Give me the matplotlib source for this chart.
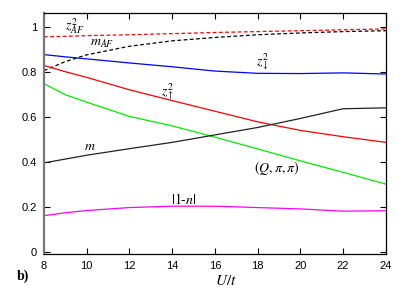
import matplotlib
matplotlib.use('Agg')
import matplotlib.pyplot as plt
from matplotlib.ticker import FormatStrFormatter, MultipleLocator

plt.rcParams['mathtext.fontset'] = 'stix'
plt.rcParams['font.family'] = 'Liberation Sans'

U = [8, 9, 10, 12, 14, 16, 18, 20, 22, 24]
z2_af = [0.955, 0.957, 0.960, 0.964, 0.969, 0.974, 0.978, 0.982, 0.986, 0.990]
m_af = [0.805, 0.845, 0.875, 0.913, 0.937, 0.952, 0.964, 0.972, 0.978, 0.982]
z2_down = [0.876, 0.866, 0.857, 0.839, 0.822, 0.803, 0.793, 0.792, 0.795, 0.790]
z2_up = [0.828, 0.800, 0.775, 0.720, 0.672, 0.625, 0.578, 0.540, 0.512, 0.487]
q_pipi = [0.747, 0.698, 0.665, 0.602, 0.560, 0.510, 0.458, 0.405, 0.354, 0.302]
m = [0.396, 0.413, 0.430, 0.459, 0.487, 0.520, 0.553, 0.593, 0.636, 0.640]
one_minus_n = [0.162, 0.175, 0.185, 0.198, 0.204, 0.204, 0.198, 0.192, 0.182, 0.184]

fig = plt.figure(figsize=(4.07, 2.91), dpi=100)
ax = fig.add_axes([0.108, 0.127, 0.840, 0.828])

lw = 0.9
ax.plot(U, z2_af, color='#ff0000', lw=lw, ls=(0, (3, 2)))
ax.plot(U, m_af, color='black', lw=lw, ls=(0, (3, 2)))
ax.plot(U, z2_down, color='#0000ff', lw=lw)
ax.plot(U, z2_up, color='#ff0000', lw=lw)
ax.plot(U, q_pipi, color='#00ee00', lw=lw)
ax.plot(U, m, color='#222222', lw=lw)
ax.plot(U, one_minus_n, color='#ff00ff', lw=lw)

ax.set_xlim(8, 24)
ax.set_ylim(-0.008, 1.06)
ax.xaxis.set_major_locator(MultipleLocator(2))
ax.yaxis.set_major_locator(MultipleLocator(0.2))
ax.yaxis.set_major_formatter(FormatStrFormatter('%g'))
ax.tick_params(direction='in', length=4, width=0.8, top=True, right=True,
               labelsize=8, pad=5)
for s in ax.spines.values():
    s.set_linewidth(0.9)
ax.spines['left'].set_color('#777777')
ax.spines['left'].set_linewidth(1.6)

lab = dict(fontsize=10, family='Liberation Serif', ha='center', va='center')
ax.text(9.45, 1.0, r'$z^2_{AF}$', **lab)
ax.text(10.7, 0.925, r'$m_{AF}$', **lab)
ax.text(13.8, 0.712, r'$z^2_{\uparrow}$', **lab)
ax.text(18.25, 0.845, r'$z^2_{\downarrow}$', **lab)
ax.text(10.15, 0.47, r'$m$', **lab)
ax.text(18.9, 0.375, r'$(Q,\pi,\pi)$', **lab)
ax.text(14.55, 0.235, r'$\left|1\text{-}n\right|$', **lab)

fig.text(226 / 407, 1 - 281 / 291, r'$U/t$', fontsize=11, ha='center', va='center')
fig.text(23 / 407, 1 - 276 / 291, 'b)', fontsize=10, fontweight='bold',
         family='Liberation Serif', ha='center', va='center')

fig.savefig('out.png', dpi=100)
